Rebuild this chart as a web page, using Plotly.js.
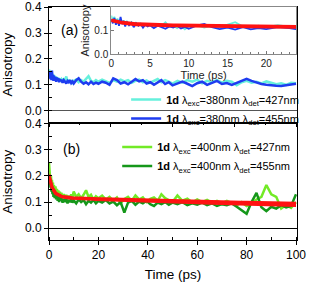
<!DOCTYPE html>
<html>
<head>
<meta charset="utf-8">
<script src="https://cdn.plot.ly/plotly-3.0.1.min.js"></script>
<style>html,body{margin:0;padding:0;background:#fff;}#chart{width:311px;height:286px;}</style>
</head>
<body>
<div id="chart"></div>
<script>
const timePs = [0,0.2,0.4,0.6,0.8,1,1.2,1.4,1.6,1.8,2,2.3,2.6,2.9,3.2,3.5,3.8,4.1,4.4,4.7,5,5.5,6,6.5,7,7.5,8,8.5,9,9.5,10,
  11,12,13,14,15,16,17,18,19,20,
  21.5,23,24.5,26,27.5,29,30.5,32,33.5,35,36.5,38,39.5,41,42.5,44,45.5,47,48.5,50,
  52,54,56,58,60,62,64,66,68,70,72,74,76,78,80,82,84,86,88,90,92,94,96,98,100];

const exc380det427 = [0.16,0.14,0.155,0.135,0.148,0.13,0.145,0.128,0.14,0.125,0.138,0.122,0.133,0.118,0.13,0.12,0.127,0.115,0.124,0.118,0.122,0.112,0.125,0.118,0.132,0.113,0.12,0.108,0.118,0.103,0.115,
  0.12,0.11,0.118,0.112,0.122,0.133,0.115,0.11,0.118,0.112,
  0.12,0.113,0.107,0.118,0.112,0.12,0.113,0.118,0.108,0.115,0.12,0.11,0.117,0.108,0.115,0.122,0.11,0.118,0.112,0.105,
  0.115,0.108,0.118,0.112,0.12,0.106,0.115,0.11,0.118,0.108,0.115,0.112,0.098,0.11,0.115,0.108,0.112,0.105,0.113,0.108,0.102,0.106,0.1,0.108,0.106];

const exc380det455 = [0.145,0.128,0.15,0.122,0.142,0.118,0.155,0.125,0.138,0.115,0.135,0.12,0.13,0.112,0.128,0.118,0.125,0.11,0.122,0.115,0.12,0.108,0.118,0.112,0.105,0.115,0.11,0.118,0.107,0.113,0.105,
  0.118,0.125,0.112,0.104,0.11,0.102,0.112,0.103,0.108,0.104,
  0.112,0.108,0.1,0.125,0.118,0.105,0.11,0.102,0.112,0.122,0.113,0.118,0.105,0.11,0.1,0.108,0.118,0.103,0.11,0.098,
  0.106,0.112,0.104,0.095,0.106,0.112,0.1,0.108,0.115,0.103,0.107,0.1,0.108,0.115,0.123,0.115,0.108,0.103,0.1,0.097,0.096,0.095,0.098,0.1,0.104];

const fit380a = [0.14,0.138,0.136,0.134,0.133,0.131,0.13,0.129,0.128,0.127,0.126,0.125,0.124,0.123,0.1225,0.122,0.1215,0.121,0.1205,0.12,0.1198,0.1193,0.119,0.1186,0.1183,0.118,0.1177,0.1174,0.1171,0.1168,0.1165,
  0.116,0.1155,0.115,0.1146,0.1142,0.1138,0.1135,0.1132,0.1129,0.1126,
  0.1122,0.1118,0.1114,0.111,0.1107,0.1104,0.11,0.1097,0.1094,0.1091,0.1088,0.1085,0.1082,0.1079,0.1076,0.1073,0.107,0.1067,0.1064,0.1061,
  0.1057,0.1054,0.1051,0.1048,0.1045,0.1042,0.1039,0.1036,0.1033,0.103,0.1027,0.1024,0.1021,0.1018,0.1015,0.1012,0.1009,0.1006,0.1003,0.1,0.0997,0.0994,0.0991,0.0988,0.0985];

const fit380b = [0.142,0.14,0.139,0.137,0.136,0.135,0.134,0.133,0.132,0.131,0.13,0.129,0.128,0.127,0.1265,0.126,0.1255,0.125,0.1245,0.124,0.1237,0.1232,0.1227,0.1223,0.122,0.1216,0.1213,0.121,0.1207,0.1204,0.1201,
  0.1195,0.119,0.1185,0.118,0.1176,0.1172,0.1168,0.1164,0.116,0.1156,
  0.1151,0.1146,0.1141,0.1136,0.1132,0.1128,0.1124,0.112,0.1116,0.1112,0.1108,0.1104,0.11,0.1096,0.1093,0.109,0.1087,0.1084,0.1081,0.1078,
  0.1074,0.107,0.1066,0.1062,0.1058,0.1054,0.105,0.1046,0.1042,0.1038,0.1034,0.103,0.1026,0.1022,0.1018,0.1014,0.101,0.1006,0.1002,0.0998,0.0994,0.099,0.0986,0.0982,0.0978];

const exc400det427 = [0.25,0.2,0.22,0.17,0.2,0.16,0.185,0.15,0.175,0.145,0.165,0.14,0.16,0.135,0.15,0.13,0.145,0.125,0.14,0.12,0.135,0.118,0.13,0.115,0.128,0.11,0.125,0.113,0.13,0.118,0.14,
  0.12,0.13,0.115,0.128,0.145,0.12,0.128,0.11,0.122,0.115,
  0.125,0.11,0.12,0.105,0.118,0.095,0.112,0.12,0.105,0.125,0.11,0.118,0.1,0.112,0.118,0.105,0.13,0.115,0.108,0.1,
  0.125,0.105,0.113,0.098,0.11,0.1,0.108,0.098,0.105,0.095,0.105,0.098,0.088,0.1,0.085,0.095,0.11,0.12,0.165,0.13,0.12,0.075,0.09,0.078,0.1];

const exc400det455 = [0.2,0.175,0.19,0.155,0.17,0.14,0.16,0.13,0.15,0.12,0.14,0.115,0.135,0.11,0.128,0.105,0.122,0.1,0.118,0.105,0.115,0.098,0.112,0.1,0.11,0.095,0.108,0.1,0.112,0.098,0.106,
  0.095,0.11,0.1,0.108,0.092,0.105,0.098,0.108,0.095,0.105,
  0.098,0.108,0.095,0.102,0.088,0.1,0.06,0.098,0.105,0.09,0.102,0.095,0.105,0.092,0.085,0.098,0.092,0.1,0.09,0.098,
  0.092,0.1,0.088,0.095,0.09,0.098,0.088,0.095,0.085,0.092,0.088,0.095,0.082,0.07,0.055,0.1,0.135,0.08,0.065,0.082,0.075,0.088,0.08,0.085,0.13];

const fit400a = [0.205,0.195,0.186,0.178,0.171,0.165,0.16,0.155,0.151,0.147,0.144,0.14,0.137,0.134,0.132,0.13,0.128,0.1265,0.125,0.124,0.123,0.1215,0.1205,0.1195,0.119,0.1185,0.118,0.1176,0.1172,0.1168,0.1165,
  0.116,0.1156,0.1152,0.1149,0.1146,0.1143,0.114,0.1137,0.1134,0.1131,
  0.1127,0.1123,0.1119,0.1115,0.1111,0.1107,0.1103,0.1099,0.1095,0.1091,0.1087,0.1083,0.1079,0.1075,0.1071,0.1067,0.1063,0.1059,0.1055,0.1051,
  0.1048,0.1044,0.104,0.1036,0.1032,0.1028,0.1024,0.102,0.1016,0.1012,0.1008,0.1004,0.1,0.0996,0.0992,0.0988,0.0984,0.098,0.0976,0.0972,0.0968,0.0964,0.096,0.0956,0.0952];

const fit400b = [0.2,0.19,0.181,0.173,0.166,0.16,0.155,0.151,0.147,0.143,0.14,0.136,0.133,0.131,0.129,0.127,0.125,0.1238,0.1225,0.1215,0.1205,0.1192,0.1182,0.1174,0.1168,0.1162,0.1157,0.1152,0.1148,0.1144,0.114,
  0.1134,0.1129,0.1124,0.112,0.1116,0.1112,0.1108,0.1104,0.11,0.1096,
  0.1091,0.1086,0.1081,0.1076,0.1071,0.1066,0.1061,0.1056,0.1051,0.1046,0.1041,0.1036,0.1031,0.1026,0.1021,0.1016,0.1011,0.1006,0.1001,0.0996,
  0.0991,0.0986,0.0981,0.0976,0.0971,0.0966,0.0961,0.0956,0.0951,0.0946,0.0941,0.0936,0.0931,0.0926,0.0921,0.0916,0.0911,0.0906,0.0901,0.0896,0.0891,0.0886,0.0881,0.0876,0.0871];

const names = [
  '<b>1d</b> λ<sub>exc</sub>=380nm λ<sub>det</sub>=427nm',
  '<b>1d</b> λ<sub>exc</sub>=380nm λ<sub>det</sub>=455nm',
  '<b>1d</b> λ<sub>exc</sub>=400nm λ<sub>det</sub>=427nm',
  '<b>1d</b> λ<sub>exc</sub>=400nm λ<sub>det</sub>=455nm'
];
const yTickVals = [0, 0.1, 0.2, 0.3, 0.4];
const yTickText = ['0.0', '0.1', '0.2', '0.3', '0.4'];
const insetYTickVals = [0, 0.1];
const insetYTickText = ['0.0', '0.1'];

const C_CYAN = '#66f0dc', C_BLUE = '#1e3cf0', C_LG = '#72ea26', C_DG = '#15971a', C_RED = '#ff1212';

const traces = [
  {x: timePs, y: exc380det427, xaxis: 'x', yaxis: 'y', name: names[0], mode: 'lines', line: {color: C_CYAN, width: 2.5}, legend: 'legend'},
  {x: timePs, y: exc380det455, xaxis: 'x', yaxis: 'y', name: names[1], mode: 'lines', line: {color: C_BLUE, width: 2.5}, legend: 'legend'},
  {x: timePs, y: exc380det427, xaxis: 'x3', yaxis: 'y3', mode: 'lines', line: {color: C_CYAN, width: 1.8}, showlegend: false},
  {x: timePs, y: exc380det455, xaxis: 'x3', yaxis: 'y3', mode: 'lines', line: {color: C_BLUE, width: 1.8}, showlegend: false},
  {x: timePs, y: fit380a, xaxis: 'x3', yaxis: 'y3', mode: 'lines', line: {color: C_RED, width: 3}, showlegend: false},
  {x: timePs, y: fit380b, xaxis: 'x3', yaxis: 'y3', mode: 'lines', line: {color: C_RED, width: 3}, showlegend: false},
  {x: timePs, y: exc400det427, xaxis: 'x2', yaxis: 'y2', name: names[2], mode: 'lines', line: {color: C_LG, width: 2.5}, legend: 'legend2'},
  {x: timePs, y: exc400det455, xaxis: 'x2', yaxis: 'y2', name: names[3], mode: 'lines', line: {color: C_DG, width: 2.5}, legend: 'legend2'},
  {x: timePs, y: fit400a, xaxis: 'x2', yaxis: 'y2', mode: 'lines', line: {color: C_RED, width: 3}, showlegend: false},
  {x: timePs, y: fit400b, xaxis: 'x2', yaxis: 'y2', mode: 'lines', line: {color: C_RED, width: 3}, showlegend: false}
];

const FONT = 'Liberation Sans';
const baseY = {
  range: [-0.045, 0.4005], tickvals: yTickVals, ticktext: yTickText, ticks: 'outside', ticklen: 4, tickcolor: '#000',
  minor: {dtick: 0.05, ticks: 'inside', ticklen: 3, tickcolor: '#000'},
  showline: true, linecolor: '#000', linewidth: 1, mirror: true, showgrid: false,
  zeroline: true, tickfont: {size: 12, color: '#000'},
  title: {text: 'Anisotropy', font: {size: 13.5, color: '#000'}}
};

const layout = {
  width: 311, height: 286,
  margin: {l: 49, r: 11, t: 7, b: 46},
  paper_bgcolor: '#fff', plot_bgcolor: '#fff',
  font: {family: FONT, color: '#000'},
  xaxis: {domain: [0, 1], anchor: 'y', range: [0, 100.4], dtick: 25, ticks: 'outside', ticklen: 4, tickcolor: '#000',
    minor: {dtick: 12.5, ticks: 'outside', ticklen: 2, tickcolor: '#000'},
    showticklabels: false, showline: true, linecolor: '#000', mirror: true, showgrid: false, zeroline: false},
  yaxis: Object.assign({}, baseY, {domain: [0.505, 1], anchor: 'x', zerolinecolor: '#555', zerolinewidth: 1.5}),
  xaxis2: {domain: [0, 1], anchor: 'y2', range: [0, 100.4], dtick: 20, ticks: 'outside', ticklen: 4, tickcolor: '#000',
    minor: {dtick: 10, ticks: 'inside', ticklen: 3, tickcolor: '#000'},
    showline: true, linecolor: '#000', mirror: true, showgrid: false, zeroline: false,
    tickfont: {size: 12, color: '#000'}, title: {text: 'Time (ps)', font: {size: 13.5, color: '#000'}, standoff: 8}},
  yaxis2: Object.assign({}, baseY, {domain: [0, 0.5], anchor: 'x2', zerolinecolor: '#000', zerolinewidth: 1}),
  xaxis3: {domain: [0.251, 0.996], anchor: 'y3', range: [0, 23.85], dtick: 5, ticks: 'inside', ticklen: 3, tickcolor: '#777',
    minor: {dtick: 1, ticks: 'inside', ticklen: 2, tickcolor: '#777'},
    showline: true, linecolor: '#888', mirror: true, showgrid: false, zeroline: false,
    tickfont: {size: 10, color: '#222'}, title: {text: 'Time (ps)', font: {size: 11, color: '#222'}, standoff: 1}},
  yaxis3: {domain: [0.798, 1], anchor: 'x3', range: [0, 0.196], tickvals: insetYTickVals, ticktext: insetYTickText,
    ticks: 'inside', ticklen: 3, tickcolor: '#777', showline: true, linecolor: '#888', mirror: true, showgrid: false, zeroline: false,
    tickfont: {size: 10, color: '#222'}, title: {text: 'Anisotropy', font: {size: 11, color: '#222'}, standoff: 2}},
  legend: {x: 0.311, y: 0.665, xanchor: 'left', yanchor: 'top', bgcolor: 'rgba(0,0,0,0)', font: {size: 11, color: '#000'}, itemwidth: 30, tracegroupgap: 0},
  legend2: {x: 0.275, y: 0.461, xanchor: 'left', yanchor: 'top', bgcolor: 'rgba(0,0,0,0)', font: {size: 11, color: '#000'}, itemwidth: 30, tracegroupgap: 0},
  annotations: [
    {text: '(a)', xref: 'paper', yref: 'paper', x: 0.084, y: 0.901, xanchor: 'center', yanchor: 'middle', showarrow: false, font: {size: 14, color: '#000'}},
    {text: '(b)', xref: 'paper', yref: 'paper', x: 0.092, y: 0.39, xanchor: 'center', yanchor: 'middle', showarrow: false, font: {size: 14, color: '#000'}}
  ],
  showlegend: true
};

Plotly.newPlot('chart', traces, layout, {displayModeBar: false, staticPlot: true});
</script>
</body>
</html>
